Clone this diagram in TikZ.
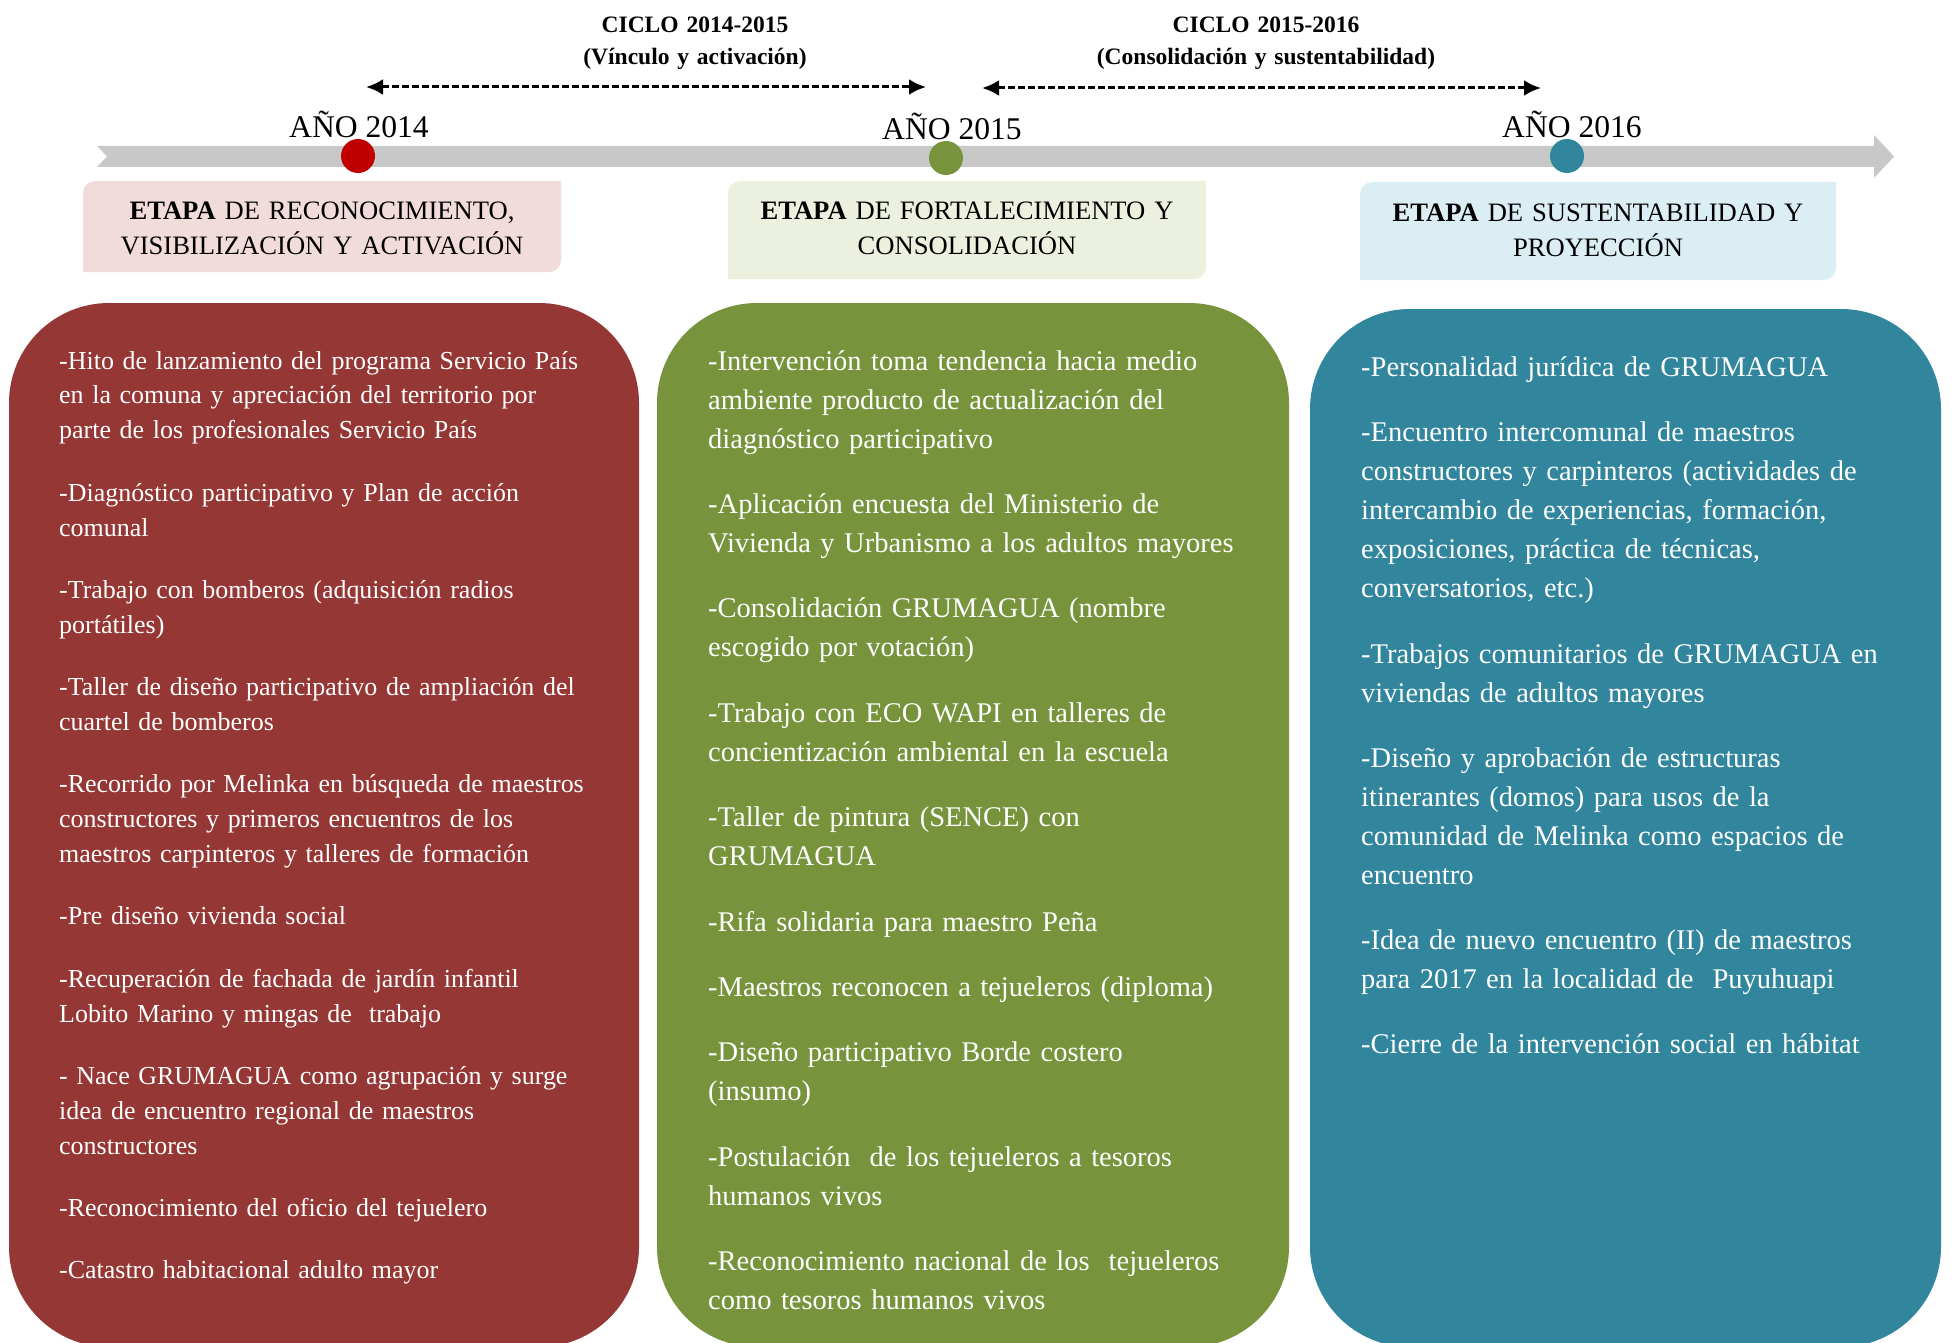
\documentclass[tikz,border=0pt]{standalone}
\usepackage{fontspec}
\setmainfont{Liberation Serif}
\usetikzlibrary{arrows.meta}
\definecolor{etapaR}{RGB}{149,55,53}
\definecolor{etapaG}{RGB}{119,147,60}
\definecolor{etapaB}{RGB}{49,133,156}
\definecolor{hitoR}{RGB}{192,0,0}
\definecolor{lineaG}{RGB}{200,200,200}
\definecolor{fondoR}{RGB}{242,220,219}
\definecolor{fondoG}{RGB}{235,241,222}
\definecolor{fondoB}{RGB}{219,238,243}

\begin{document}
\begin{tikzpicture}[x=1pt, y=-1pt, >={Latex[length=17pt,width=16pt]},
  anio/.style={anchor=base, inner sep=0pt, font=\fontsize{31.6}{38}\selectfont},
  ciclo/.style={anchor=base, inner sep=0pt, text width=420pt, align=center,
                font=\bfseries\fontsize{23.5}{32}\selectfont},
  hito/.style={circle, minimum size=34pt, inner sep=0pt},
  etapa/.style={anchor=base, inner sep=0pt, text width=470pt, align=center,
                font=\fontsize{26.6}{35}\selectfont},
  caja/.style={rounded corners=100pt},
  lista/.style={anchor=base west, inner sep=0pt, align=left, text=white},
  listaA/.style={lista, text width=570pt, font=\fontsize{25.95}{34.9}\selectfont},
  listaB/.style={lista, text width=575pt, font=\fontsize{28.5}{39}\selectfont},
  rango/.style={<->, dash pattern=on 7pt off 3pt, line width=3pt}]
  \useasboundingbox (0,0) rectangle (1954,1343);
  \clip (0,0) rectangle (1954,1343);

  % ciclos
  \node[ciclo] (ciclo1) at (695,32.2) {CICLO 2014-2015\\(Vínculo y activación)};
  \node[ciclo] (ciclo2) at (1266,32.2) {CICLO 2015-2016\\(Consolidación y sustentabilidad)};
  \coordinate (r1a) at (366,87); \coordinate (r1b) at (926,87);
  \coordinate (r2a) at (982,88); \coordinate (r2b) at (1541,88);
  \draw[rango] (r1a) -- (r1b);
  \draw[rango] (r2a) -- (r2b);

  % linea de tiempo
  \fill[lineaG] (97,146) -- (1874,146) -- (1874,135) -- (1894,156.5) -- (1874,178)
    -- (1874,167) -- (97,167) -- (107,156.5) -- cycle;
  \node[hito, fill=hitoR] (h14) at (358,156) {};
  \node[hito, fill=etapaG] (h15) at (946,158) {};
  \node[hito, fill=etapaB] (h16) at (1567,156) {};
  \node[anio] (a14) at (359,137.5) {AÑO 2014};
  \node[anio] (a15) at (952,139.8) {AÑO 2015};
  \node[anio] (a16) at (1572,137.5) {AÑO 2016};

  % etapas
  \fill[fondoR] (83,272) -- (83,193) arc[start angle=180, end angle=270, radius=12]
    -- (561,181) -- (561,260) arc[start angle=0, end angle=90, radius=12] -- cycle;
  \fill[fondoG] (728,279) -- (728,193) arc[start angle=180, end angle=270, radius=12]
    -- (1206,181) -- (1206,267) arc[start angle=0, end angle=90, radius=12] -- cycle;
  \fill[fondoB] (1360,280) -- (1360,194) arc[start angle=180, end angle=270, radius=12]
    -- (1836,182) -- (1836,268) arc[start angle=0, end angle=90, radius=12] -- cycle;
  \node[etapa] (e1) at (322,220) {\textbf{ETAPA} DE RECONOCIMIENTO,\\VISIBILIZACIÓN Y ACTIVACIÓN};
  \node[etapa] (e2) at (967,220) {\textbf{ETAPA} DE FORTALECIMIENTO Y\\CONSOLIDACIÓN};
  \node[etapa] (e3) at (1598,221.8) {\textbf{ETAPA} DE SUSTENTABILIDAD Y\\PROYECCIÓN};

  % columnas
  \fill[etapaR, caja] (9,303) rectangle (639,1347);
  \fill[etapaG, caja] (657,303) rectangle (1289,1347);
  \fill[etapaB, caja] (1310,309) rectangle (1941,1347);

  \node[listaA] (l1) at (59,369) {-Hito de lanzamiento del programa Servicio País\\
    en la comuna y apreciación del territorio por\\
    parte de los profesionales Servicio País\\[27.4pt]
    -Diagnóstico participativo y Plan de acción\\
    comunal\\[27.4pt]
    -Trabajo con bomberos (adquisición radios\\
    portátiles)\\[27.4pt]
    -Taller de diseño participativo de ampliación del\\
    cuartel de bomberos\\[27.4pt]
    -Recorrido por Melinka en búsqueda de maestros\\
    constructores y primeros encuentros de los\\
    maestros carpinteros y talleres de formación\\[27.4pt]
    -Pre diseño vivienda social\\[27.4pt]
    -Recuperación de fachada de jardín infantil\\
    Lobito Marino y mingas de~ trabajo\\[27.4pt]
    - Nace GRUMAGUA como agrupación y surge\\
    idea de encuentro regional de maestros\\
    constructores\\[27.4pt]
    -Reconocimiento del oficio del tejuelero\\[27.4pt]
    -Catastro habitacional adulto mayor};
  \node[listaB] (l2) at (708,370) {-Intervención toma tendencia hacia medio\\
    ambiente producto de actualización del\\
    diagnóstico participativo\\[26.4pt]
    -Aplicación encuesta del Ministerio de\\
    Vivienda y Urbanismo a los adultos mayores\\[26.4pt]
    -Consolidación GRUMAGUA (nombre\\
    escogido por votación)\\[26.4pt]
    -Trabajo con ECO WAPI en talleres de\\
    concientización ambiental en la escuela\\[26.4pt]
    -Taller de pintura (SENCE) con\\
    GRUMAGUA\\[26.4pt]
    -Rifa solidaria para maestro Peña\\[26.4pt]
    -Maestros reconocen a tejueleros (diploma)\\[26.4pt]
    -Diseño participativo Borde costero\\
    (insumo)\\[26.4pt]
    -Postulación~ de los tejueleros a tesoros\\
    humanos vivos\\[26.4pt]
    -Reconocimiento nacional de los~ tejueleros\\
    como tesoros humanos vivos};
  \node[listaB] (l3) at (1361,376.6) {-Personalidad jurídica de GRUMAGUA\\[26.2pt]
    -Encuentro intercomunal de maestros\\
    constructores y carpinteros (actividades de\\
    intercambio de experiencias, formación,\\
    exposiciones, práctica de técnicas,\\
    conversatorios, etc.)\\[26.2pt]
    -Trabajos comunitarios de GRUMAGUA en\\
    viviendas de adultos mayores\\[26.2pt]
    -Diseño y aprobación de estructuras\\
    itinerantes (domos) para usos de la\\
    comunidad de Melinka como espacios de\\
    encuentro\\[26.2pt]
    -Idea de nuevo encuentro (II) de maestros\\
    para 2017 en la localidad de~ Puyuhuapi\\[26.2pt]
    -Cierre de la intervención social en hábitat};
\end{tikzpicture}
\end{document}
